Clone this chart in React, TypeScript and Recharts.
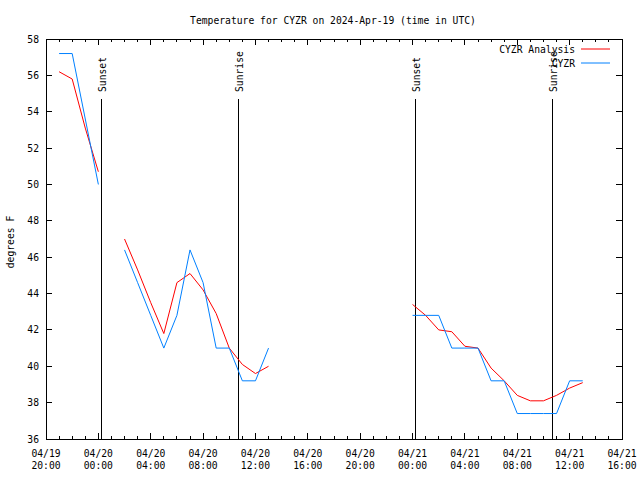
import React from 'react';
import { LineChart, Line, XAxis, YAxis, ReferenceArea, ReferenceLine } from 'recharts';

// hours counted from 04/19 20:00 UTC
const hours = Array.from({ length: 45 }, (_, i) => i);

const analysisTemps: (number | null)[] = [
    null, 56.2, 55.8, 53.1, 50.7, null, 47.0, 45.3, 43.5, 41.8, 44.6, 45.1, 44.2, 42.9, 41.0, 40.1, 39.6, 40.0,
    null, null, null, null, null, null, null, null, null, null,
    43.4, 42.8, 42.0, 41.9, 41.1, 41.0, 39.9, 39.2, 38.4, 38.1, 38.1, 38.4, 38.8, 39.1,
];
const observedTemps: (number | null)[] = [
    null, 57.2, 57.2, 53.6, 50.0, null, 46.4, 44.6, 42.8, 41.0, 42.8, 46.4, 44.6, 41.0, 41.0, 39.2, 39.2, 41.0,
    null, null, null, null, null, null, null, null, null, null,
    42.8, 42.8, 42.8, 41.0, 41.0, 41.0, 39.2, 39.2, 37.4, 37.4, 37.4, 37.4, 39.2, 39.2,
];

const xTickLabels: Record<number, [string, string]> = {
    0: ['04/19', '20:00'], 4: ['04/20', '00:00'], 8: ['04/20', '04:00'], 12: ['04/20', '08:00'],
    16: ['04/20', '12:00'], 20: ['04/20', '16:00'], 24: ['04/20', '20:00'], 28: ['04/21', '00:00'],
    32: ['04/21', '04:00'], 36: ['04/21', '08:00'], 40: ['04/21', '12:00'], 44: ['04/21', '16:00'],
};
const yTicks = [36, 38, 40, 42, 44, 46, 48, 50, 52, 54, 56, 58];

const sunEvents = [
    { h: 4.22, label: 'Sunset' },
    { h: 14.67, label: 'Sunrise' },
    { h: 28.19, label: 'Sunset' },
    { h: 38.66, label: 'Sunrise' },
];

const seriesNames = ['CYZR Analysis', 'CYZR'];
const seriesColors = ['#ff0000', '#0080ff'];

const analysisData = hours.map((h) => ({ h, v: analysisTemps[h] ?? null }));
const observedData = hours.map((h) => ({ h, v: observedTemps[h] ?? null }));

const FONT = '"DejaVu Sans Mono", monospace';
const FS = 9.7;
const TOP = 39;
const BOTTOM = 439;
const LEFT = 46;
const RIGHT = 622;

const XTick = (props: any) => {
    const { x, payload } = props;
    const v = payload.value;
    const major = v % 4 === 0;
    const len = major ? 6 : 3;
    const lbl = xTickLabels[v];
    return (
        <g>
            <line x1={x} x2={x} y1={BOTTOM} y2={BOTTOM - len} stroke="#000" shapeRendering="crispEdges" />
            <line x1={x} x2={x} y1={TOP} y2={TOP + len} stroke="#000" shapeRendering="crispEdges" />
            {major && lbl && (
                <text x={x} textAnchor="middle" fontFamily={FONT} fontSize={FS} fill="#000">
                    <tspan x={x} y={457}>{lbl[0]}</tspan>
                    <tspan x={x} y={469}>{lbl[1]}</tspan>
                </text>
            )}
        </g>
    );
};

const YTick = (props: any) => {
    const { y, payload } = props;
    return (
        <g>
            <line x1={LEFT} x2={LEFT + 6} y1={y} y2={y} stroke="#000" shapeRendering="crispEdges" />
            <line x1={RIGHT} x2={RIGHT - 6} y1={y} y2={y} stroke="#000" shapeRendering="crispEdges" />
            <text x={39} y={y} textAnchor="end" dominantBaseline="central" fontFamily={FONT} fontSize={FS} fill="#000">
                {payload.value}
            </text>
        </g>
    );
};

const sunShape = (label: string) => (p: any) => {
    const x = p.x1;
    const yTop = Math.min(p.y1, p.y2);
    const yBot = Math.max(p.y1, p.y2);
    return (
        <g>
            <line x1={x} x2={x} y1={yTop} y2={yBot} stroke="#000" shapeRendering="crispEdges" />
            <text
                x={x + 1}
                y={yTop - 7}
                transform={`rotate(-90, ${x + 1}, ${yTop - 7})`}
                textAnchor="start"
                dominantBaseline="central"
                fontFamily={FONT}
                fontSize={FS}
                fill="#000"
            >
                {label}
            </text>
        </g>
    );
};

export default function App() {
    return (
        <div style={{ position: 'absolute', left: 0, top: 0, width: 640, height: 480, background: '#fff' }}>
            <svg width={640} height={480} style={{ position: 'absolute', left: 0, top: 0 }}>
                <text x={333} y={20} textAnchor="middle" dominantBaseline="central" fontFamily={FONT} fontSize={FS}>
                    Temperature for CYZR on 2024-Apr-19 (time in UTC)
                </text>
                <text
                    x={10}
                    y={242}
                    transform="rotate(-90, 10, 242)"
                    textAnchor="middle"
                    dominantBaseline="central"
                    fontFamily={FONT}
                    fontSize={FS}
                >
                    degrees F
                </text>
            </svg>
            <div style={{ position: 'absolute', left: 0, top: 0 }}>
                <LineChart width={640} height={480} margin={{ top: TOP, right: 640 - RIGHT, bottom: 480 - BOTTOM - 30, left: 0 }}>
                    <XAxis
                        dataKey="h"
                        type="number"
                        domain={[0, 44]}
                        ticks={hours}
                        interval={0}
                        height={30}
                        axisLine={false}
                        tickLine={false}
                        tick={(p: any) => <XTick {...p} />}
                        allowDataOverflow
                    />
                    <YAxis
                        type="number"
                        domain={[36, 58]}
                        ticks={yTicks}
                        interval={0}
                        width={LEFT}
                        axisLine={false}
                        tickLine={false}
                        tick={(p: any) => <YTick {...p} />}
                        allowDataOverflow
                    />
                    <ReferenceArea x1={0} x2={44} y1={36} y2={58} fill="none" stroke="#000" strokeWidth={1} shapeRendering="crispEdges" />
                    {sunEvents.map((s, i) => (
                        <ReferenceLine
                            key={i}
                            segment={[{ x: s.h, y: 36 }, { x: s.h, y: 54.7 }]}
                            shape={sunShape(s.label)}
                        />
                    ))}
                    <Line
                        data={analysisData}
                        dataKey="v"
                        name={seriesNames[0]}
                        type="linear"
                        stroke={seriesColors[0]}
                        strokeWidth={1}
                        dot={false}
                        activeDot={false}
                        isAnimationActive={false}
                    />
                    <Line
                        data={observedData}
                        dataKey="v"
                        name={seriesNames[1]}
                        type="linear"
                        stroke={seriesColors[1]}
                        strokeWidth={1}
                        dot={false}
                        activeDot={false}
                        isAnimationActive={false}
                    />
                </LineChart>
            </div>
            <svg width={140} height={30} style={{ position: 'absolute', left: 480, top: 40 }}>
                {seriesNames.map((n, i) => (
                    <g key={n}>
                        <text x={95} y={9 + i * 14} textAnchor="end" dominantBaseline="central" fontFamily={FONT} fontSize={FS}>{n}</text>
                        <line x1={101} x2={130} y1={9 + i * 14} y2={9 + i * 14} stroke={seriesColors[i]} />
                    </g>
                ))}
            </svg>
        </div>
    );
}
